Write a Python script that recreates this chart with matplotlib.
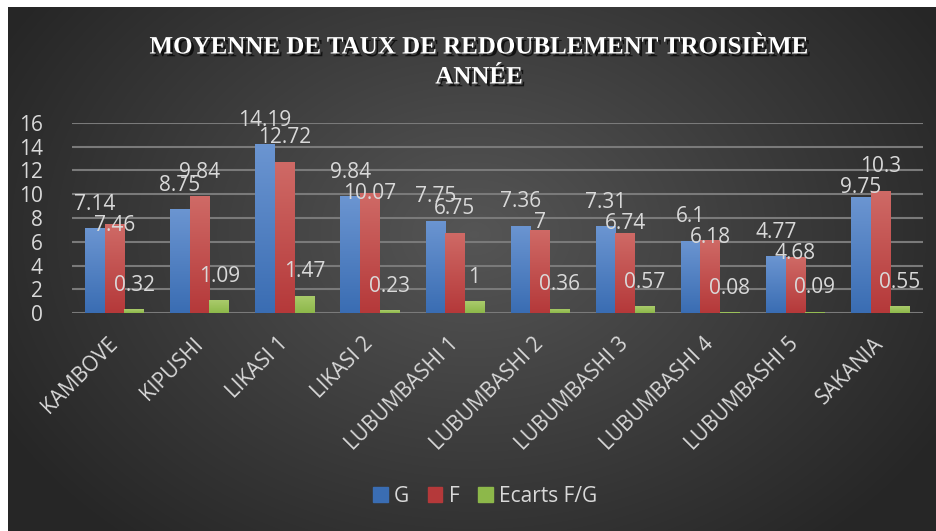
import matplotlib.pyplot as plt
import matplotlib.patheffects as pe
from matplotlib.patches import Patch
import numpy as np

# Data
categories = ["KAMBOVE", "KIPUSHI", "LIKASI 1", "LIKASI 2", "LUBUMBASHI 1",
              "LUBUMBASHI 2", "LUBUMBASHI 3", "LUBUMBASHI 4", "LUBUMBASHI 5", "SAKANIA"]
g_values = [7.14, 8.75, 14.19, 9.84, 7.75, 7.36, 7.31, 6.1, 4.77, 9.75]
f_values = [7.46, 9.84, 12.72, 10.07, 6.75, 7, 6.74, 6.18, 4.68, 10.3]
ecarts = [0.32, 1.09, 1.47, 0.23, 1, 0.36, 0.57, 0.08, 0.09, 0.55]
series_names = ["G", "F", "Ecarts F/G"]

W, H = 937, 531
text_col = "#d9d9d9"
font = "Open Sans"

fig = plt.figure(figsize=(W / 100, H / 100), dpi=100)
fig.patch.set_facecolor("white")

# Background with radial gradient
bg = fig.add_axes([0, 0, 1, 1])
bg.set_xlim(0, W)
bg.set_ylim(H, 0)
bg.axis("off")
yy, xx = np.mgrid[0:H, 0:W]
d = np.sqrt(((xx - 470) / 560.0) ** 2 + ((yy - 230) / 420.0) ** 2)
shade = np.clip(0.335 - 0.19 * d, 0.15, 0.34)
bg.imshow(np.dstack([shade] * 3), extent=[8, W, H, 7], aspect="auto", zorder=0)

# Title
title_fx = [pe.withSimplePatchShadow(offset=(2, -2), shadow_rgbFace="black", alpha=0.7)]
for txt, y in [("MOYENNE DE TAUX DE REDOUBLEMENT TROISIÈME", 47), ("ANNÉE", 77)]:
    bg.text(479, y, txt, ha="center", va="center", color="white", fontsize=18,
            fontweight="bold", family="Liberation Serif", path_effects=title_fx)

# Plot area
ax = fig.add_axes([72 / W, 1 - 313 / H, (923 - 72) / W, 190 / H])
ax.set_facecolor("none")
x = np.arange(len(categories))
bw = 0.23

grads = [("#6b95d1", "#3a6db3"), ("#cf6a66", "#b5393a"), ("#aacb6c", "#8db84a")]
all_vals = [g_values, f_values, ecarts]
for k, (vals, (c_top, c_bot)) in enumerate(zip(all_vals, grads)):
    c1 = np.array(plt.matplotlib.colors.to_rgb(c_top))
    c2 = np.array(plt.matplotlib.colors.to_rgb(c_bot))
    grad = np.linspace(0, 1, 64)[:, None, None] * (c2 - c1) + c1
    bars = ax.bar(x + (k - 1) * bw, vals, bw, color=c_bot, zorder=3)
    for b in bars:
        im = ax.imshow(grad, extent=[b.get_x(), b.get_x() + bw, 0, b.get_height()],
                       origin="upper", aspect="auto", zorder=3.5)
        im.set_clip_path(b)

ax.set_xlim(-0.5, len(categories) - 0.5)
ax.set_ylim(0, 16)
ax.set_yticks(range(0, 17, 2))
ax.yaxis.grid(True, color="#7a7a7a", lw=1.5, zorder=1)
ax.set_axisbelow(True)
for s in ax.spines.values():
    s.set_visible(False)
ax.tick_params(length=0, colors=text_col)
ax.tick_params(axis="y", pad=21, labelsize=15)
for t in ax.get_yticklabels():
    t.set_family(font)
ax.set_xticks(x)
ax.set_xticklabels(categories, rotation=45, ha="right", va="center",
                   rotation_mode="anchor", fontsize=15, family=font)
ax.tick_params(axis="x", pad=20)

# Data labels (nudge overlapping G/F labels like the spreadsheet does)
ppu = 190 / 16
lab_kw = dict(textcoords="offset pixels", ha="center", va="center",
              color=text_col, fontsize=15, family=font, annotation_clip=False, zorder=5)
for i in range(len(categories)):
    yb = g_values[i] * ppu + 24
    yr = f_values[i] * ppu + 24
    if abs(yb - yr) < 10:
        if yr - yb > 5:
            yb = yr - 21
        else:
            yr = yb - 21
    ax.annotate(f"{g_values[i]:g}", (x[i] - bw, 0), xytext=(0, yb), **lab_kw)
    ax.annotate(f"{f_values[i]:g}", (x[i], 0), xytext=(0, yr), **lab_kw)
    ax.annotate(f"{ecarts[i]:g}", (x[i] + bw, 0), xytext=(0, ecarts[i] * ppu + 24), **lab_kw)

# Legend
handles = [Patch(color=c[1]) for c in grads]
fig.legend(handles, series_names, loc="center", bbox_to_anchor=(485 / W, 1 - 496 / H),
           ncol=3, frameon=False, handlelength=0.7, handleheight=0.7,
           handletextpad=0.3, columnspacing=0.9, labelcolor=text_col,
           prop={"family": font, "size": 15})

fig.savefig("out.png", dpi=100)
